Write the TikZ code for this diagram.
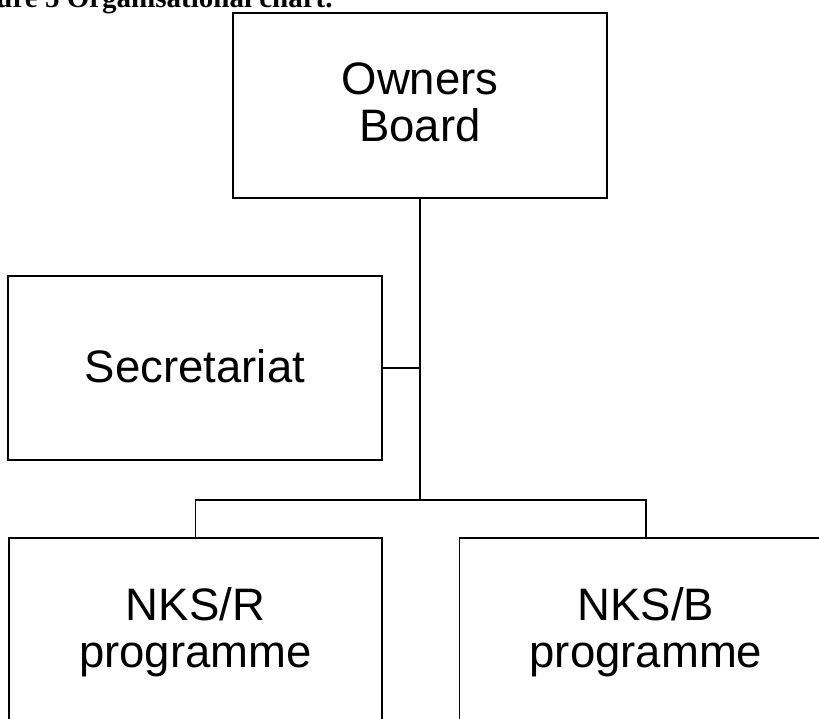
\documentclass[tikz,border=0pt]{standalone}
\usepackage{fontspec}
\setmainfont{Liberation Sans}
\newfontfamily\capfont{Liberation Serif}
\usepackage{xcolor}
\usepackage{tikz}
\usetikzlibrary{positioning}
\tikzset{
  orgbox/.style={draw=black,line width=1.7pt,minimum width=374pt,minimum height=185pt,align=center,inner sep=0pt,font=\fontsize{45.5}{47}\selectfont},
  linkedge/.style={draw=black,line width=1.4pt},
  figcap/.style={anchor=base west,inner sep=0pt,font=\capfont\bfseries\fontsize{29}{32}\selectfont},
}

\begin{document}
\begin{tikzpicture}[x=1pt,y=-1pt]
  \path[use as bounding box,clip] (0,0) rectangle (819,718);
  \node[figcap] (nCaption) at (-44,7) {Figure 5 Organisational chart.};
  \node[orgbox,text depth=6pt] (nOwners) at (420,105.5) {Owners\\Board};
  \node[orgbox,minimum height=184pt,text depth=3pt] (nSecr) at (195,368) {Secretariat};
  \node[orgbox,minimum width=373pt,minimum height=184pt,text depth=4.5pt] (nNKSR) at (195.5,630) {NKS/R\\programme};
  \node[orgbox,minimum width=373pt,minimum height=184pt,text depth=4.5pt] (nNKSB) at (646,630) {NKS/B\\programme};
  \coordinate (cBus) at (420,500);
  \draw[linkedge] (nOwners.south) -- (cBus);
  \draw[linkedge] (nSecr.east) -- (nSecr.east -| cBus);
  \draw[linkedge] (nNKSR.north) |- (cBus) -| (nNKSB.north);
\end{tikzpicture}
\end{document}
